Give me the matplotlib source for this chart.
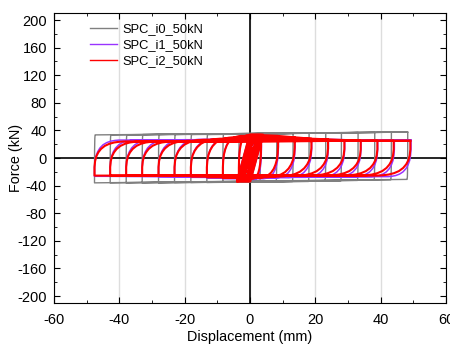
import matplotlib.pyplot as plt
import numpy as np
from matplotlib.ticker import MultipleLocator

plt.rcParams['font.family'] = ['Liberation Sans', 'DejaVu Sans']
plt.rcParams['axes.unicode_minus'] = False

# cycle end displacements (mm)
amp_pos_i0 = [3.2, 8.2, 13.2, 18.1, 23.2, 28.0, 33.1, 38.2, 43.3, 48.3]
amp_neg_i0 = [-3.4, -8.3, -13.2, -18.1, -23.1, -28.0, -33.0, -37.9, -42.8, -47.6]
amp_pos_i1 = [3.5, 8.7, 13.8, 18.9, 24.0, 29.0, 34.0, 39.1, 44.2, 49.3]
amp_neg_i1 = [-3.4, -8.3, -13.2, -18.1, -23.1, -28.0, -33.0, -37.9, -42.8, -47.6]
amp_pos_i2 = [3.4, 8.6, 13.7, 18.8, 23.9, 28.9, 33.9, 39.0, 44.0, 49.1]
amp_neg_i2 = [-3.4, -8.3, -13.2, -18.1, -23.1, -28.0, -33.0, -37.9, -42.8, -47.6]

# forces (kN): top/bottom at the positive end, bottom/top at the negative end
top_pos_i0 = [34.5, 35.0, 35.5, 36.0, 36.5, 36.5, 37.0, 37.0, 37.5, 37.5]
bot_pos_i0 = [-35.0, -34.5, -34.0, -34.0, -33.5, -33.0, -32.5, -32.0, -31.5, -31.0]
bot_neg_i0 = [-35.0, -35.0, -35.5, -35.5, -35.5, -36.0, -36.0, -36.0, -36.0, -36.0]
top_neg_i0 = [34.5, 34.5, 34.0, 34.0, 34.0, 34.0, 34.0, 33.5, 33.5, 33.5]

top_pos_i1 = [31.0, 30.0, 28.5, 27.5, 27.0, 26.5, 26.0, 26.0, 26.0, 26.0]
bot_pos_i1 = [-31.0, -30.0, -29.0, -28.5, -28.0, -27.5, -27.0, -27.0, -27.0, -27.0]
bot_neg_i1 = [-31.0, -30.0, -29.0, -28.0, -27.5, -27.0, -26.5, -26.5, -26.5, -26.5]
top_neg_i1 = [31.0, 30.0, 28.5, 27.5, 27.0, 26.5, 26.0, 26.0, 26.0, 26.0]

top_pos_i2 = [33.0, 32.0, 30.0, 28.0, 27.0, 26.0, 25.0, 25.0, 25.0, 25.0]
bot_pos_i2 = [-30.0, -29.0, -28.0, -27.0, -26.0, -25.5, -25.5, -25.5, -25.5, -25.5]
bot_neg_i2 = [-30.0, -29.0, -28.0, -27.0, -26.0, -25.5, -25.5, -25.5, -25.5, -25.5]
top_neg_i2 = [33.0, 32.0, 30.0, 28.0, 26.5, 25.0, 24.0, 24.0, 24.0, 24.0]

# width of the curved unloading (right) / reloading (left) branches (mm)
wr_i0 = [0.2] * 10
wl_i0 = [0.2] * 10
wr_i1 = [2.0, 4.5, 6.0, 7.0, 7.0, 7.0, 7.0, 7.0, 7.0, 7.0]
wl_i1 = [2.0, 4.5, 6.5, 7.5, 7.5, 7.5, 7.5, 7.5, 7.5, 7.5]
wr_i2 = [2.5, 6.0, 8.5, 10.0, 10.0, 10.0, 10.0, 10.0, 10.0, 10.0]
wl_i2 = [2.5, 5.5, 8.0, 9.0, 9.0, 9.0, 9.0, 9.0, 9.0, 9.0]

# shape of a branch: share of width / share of force change along the curve
arc_dx = [0.0, 0.0, 0.02, 0.06, 0.13, 0.22, 0.35, 0.5, 0.67, 0.84, 1.0]
arc_dy = [0.0, 0.25, 0.42, 0.56, 0.68, 0.78, 0.87, 0.93, 0.97, 0.99, 1.0]

# small steep cycles around zero: amplitude, force, horizontal span of branch
small_amp = [1.0, 1.5, 2.0, 2.5, 3.0, 3.5, 4.0]
small_span = [1.4, 2.2, 2.8, 3.2, 3.5, 3.7, 3.9]
small_f_i0 = [14.0, 22.0, 28.0, 32.0, 34.0, 34.5, 35.0]
small_f_i1 = [13.0, 20.0, 26.0, 29.0, 31.0, 31.5, 32.0]
small_f_i2 = [14.0, 21.0, 27.0, 31.0, 33.0, 33.5, 34.0]


def loops(ap, an, tp, bp, bn, tn, wr, wl, sf):
    xs, ys = [], []
    for d, sp, f in zip(small_amp, small_span, sf):
        xs += [-d, -d + sp, d, d - sp, -d]
        ys += [-f, f, f, -f, -f]
    for i in range(len(ap)):
        # right side: unloading branch
        for fx, fy in zip(arc_dx, arc_dy):
            xs.append(ap[i] - fx * wr[i])
            ys.append(tp[i] + fy * (bp[i] - tp[i]))
        xs.append(an[i]); ys.append(bn[i])
        # left side: reloading branch
        for fx, fy in zip(arc_dx, arc_dy):
            xs.append(an[i] + fx * wl[i])
            ys.append(bn[i] + fy * (tn[i] - bn[i]))
        xs.append(ap[i]); ys.append(tp[i])
    return xs, ys


fig = plt.figure(figsize=(4.5, 3.45), dpi=100)
ax = fig.add_axes([0.12, 0.122, 0.871, 0.84])

x0, y0 = loops(amp_pos_i0, amp_neg_i0, top_pos_i0, bot_pos_i0, bot_neg_i0,
               top_neg_i0, wr_i0, wl_i0, small_f_i0)
x1, y1 = loops(amp_pos_i1, amp_neg_i1, top_pos_i1, bot_pos_i1, bot_neg_i1,
               top_neg_i1, wr_i1, wl_i1, small_f_i1)
x2, y2 = loops(amp_pos_i2, amp_neg_i2, top_pos_i2, bot_pos_i2, bot_neg_i2,
               top_neg_i2, wr_i2, wl_i2, small_f_i2)

ax.plot(x0, y0, color='#808080', lw=1.0, label='SPC_i0_50kN', zorder=3)
ax.plot(x1, y1, color='#9933ff', lw=1.1, label='SPC_i1_50kN', zorder=4)
ax.plot(x2, y2, color='#ff0000', lw=1.5, label='SPC_i2_50kN', zorder=5)

ax.axhline(0, color='black', lw=1.2, zorder=2)
ax.axvline(0, color='black', lw=1.2, zorder=2)

ax.set_xlim(-60, 60)
ax.set_ylim(-210, 210)
ax.xaxis.set_major_locator(MultipleLocator(20))
ax.xaxis.set_minor_locator(MultipleLocator(10))
ax.yaxis.set_major_locator(MultipleLocator(40))
ax.yaxis.set_minor_locator(MultipleLocator(20))
ax.tick_params(which='both', direction='in', top=True, right=True, labelsize=10.5)
ax.tick_params(which='major', length=4)
ax.tick_params(which='minor', length=2)
ax.tick_params(axis='x', pad=7)
ax.tick_params(axis='y', pad=5)
ax.xaxis.grid(True, color='#dddddd', lw=1.0)
ax.set_axisbelow(True)

ax.set_xlabel('Displacement (mm)', fontsize=10.4, labelpad=2.5)
ax.set_ylabel('Force (kN)', fontsize=10.4)
ax.yaxis.set_label_coords(-0.078, 0.5)

leg = ax.legend(loc='upper left', bbox_to_anchor=(0.092, 0.965), frameon=False,
                fontsize=9.3, handlelength=2.1, handletextpad=0.4,
                labelspacing=0.3, borderaxespad=0, borderpad=0)
for line in leg.get_lines():
    line.set_linewidth(1.0)

fig.savefig('out.png', dpi=100)
